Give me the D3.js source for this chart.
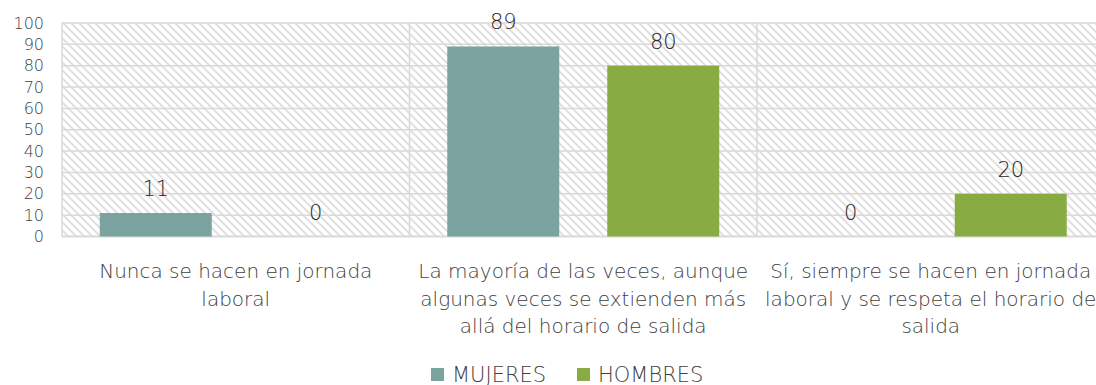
<!DOCTYPE html>
<html>
<head>
<meta charset="utf-8">
<script src="https://cdn.jsdelivr.net/npm/d3@7"></script>
<style>
  html, body { margin: 0; padding: 0; background: #fff; overflow: hidden; }
  svg { display: block; font-family: "DejaVu Sans", sans-serif; font-weight: 200; }
</style>
</head>
<body>
<svg id="chart" width="1096" height="385"></svg>
<script>
// Categories (answer options), split into the lines they are shown on
const categories = [
  ["Nunca se hacen en jornada", "laboral"],
  ["La mayoría de las veces, aunque", "algunas veces se extienden más", "allá del horario de salida"],
  ["Sí, siempre se hacen en jornada", "laboral y se respeta el horario de", "salida"]
];
const seriesNames = ["MUJERES", "HOMBRES"];
const mujeres = [11, 89, 0];
const hombres = [0, 80, 20];
const yTicks = [0, 10, 20, 30, 40, 50, 60, 70, 80, 90, 100];

const colors = { MUJERES: "#7ba3a0", HOMBRES: "#88ac43" };
const gridColor = "#d9d9d9";
const textColor = "#404040";

const svg = d3.select("#chart");
const plot = { left: 62, right: 1104.5, top: 23, bottom: 236.5 };

const x0 = d3.scaleBand()
  .domain(d3.range(categories.length))
  .range([plot.left, plot.right])
  .padding(0);
const x1 = d3.scaleBand()
  .domain(seriesNames)
  .range([0, x0.bandwidth()])
  .paddingInner(0.3)
  .paddingOuter(0.236);
const y = d3.scaleLinear().domain([0, 100]).range([plot.bottom, plot.top]);

// diagonal hatch background
const defs = svg.append("defs");
const pat = defs.append("pattern")
  .attr("id", "hatch")
  .attr("patternUnits", "userSpaceOnUse")
  .attr("width", 8).attr("height", 8);
pat.append("rect").attr("width", 8).attr("height", 8).attr("fill", "#fff");
pat.append("path")
  .attr("d", "M-2,-2 L10,10 M-2,6 L2,10 M6,-2 L10,2")
  .attr("stroke", "#dedede")
  .attr("stroke-width", 1.8);

svg.append("rect")
  .attr("x", plot.left).attr("y", plot.top)
  .attr("width", plot.right - plot.left)
  .attr("height", plot.bottom - plot.top)
  .attr("fill", "url(#hatch)");

// horizontal gridlines
svg.append("g").selectAll("line")
  .data(yTicks)
  .join("line")
  .attr("x1", plot.left).attr("x2", plot.right)
  .attr("y1", d => y(d)).attr("y2", d => y(d))
  .attr("stroke", gridColor)
  .attr("stroke-width", d => d === 0 ? 2 : 1.5);

// vertical category separators
svg.append("g").selectAll("line")
  .data(d3.range(categories.length + 1))
  .join("line")
  .attr("x1", i => i < categories.length ? x0(i) : plot.right)
  .attr("x2", i => i < categories.length ? x0(i) : plot.right)
  .attr("y1", plot.top).attr("y2", plot.bottom)
  .attr("stroke", gridColor)
  .attr("stroke-width", 1.5);

// y axis tick labels
const yAxis = d3.axisLeft(y).tickValues(yTicks).tickSize(0).tickPadding(18);
const yG = svg.append("g")
  .attr("transform", `translate(${plot.left},0)`)
  .call(yAxis);
yG.select(".domain").remove();
yG.selectAll("text")
  .attr("fill", textColor)
  .attr("font-size", 16)
  .attr("font-family", "'DejaVu Sans', sans-serif")
  .attr("font-weight", 200);

// bars
const rows = categories.map((c, i) => ({ i, values: [
  { key: "MUJERES", value: mujeres[i] },
  { key: "HOMBRES", value: hombres[i] }
]}));

const groups = svg.append("g").selectAll("g")
  .data(rows)
  .join("g")
  .attr("transform", d => `translate(${x0(d.i)},0)`);

groups.selectAll("rect")
  .data(d => d.values)
  .join("rect")
  .attr("x", d => x1(d.key))
  .attr("width", x1.bandwidth())
  .attr("y", d => y(d.value))
  .attr("height", d => y(0) - y(d.value))
  .attr("fill", d => colors[d.key]);

groups.selectAll("text.val")
  .data(d => d.values)
  .join("text")
  .attr("class", "val")
  .attr("x", d => x1(d.key) + x1.bandwidth() / 2)
  .attr("y", d => y(d.value) - 17)
  .attr("text-anchor", "middle")
  .attr("fill", "#262626")
  .attr("font-size", 21)
  .text(d => d.value);

// category labels
const catG = svg.append("g").selectAll("text")
  .data(categories)
  .join("text")
  .attr("text-anchor", "middle")
  .attr("fill", textColor)
  .attr("font-size", 20);
catG.each(function(lines, i) {
  d3.select(this).selectAll("tspan")
    .data(lines)
    .join("tspan")
    .attr("x", x0(i) + x0.bandwidth() / 2)
    .attr("y", (d, k) => 278 + k * 27.5)
    .text(d => d);
});

// legend
const legendItems = [
  { key: "MUJERES", x: 431 },
  { key: "HOMBRES", x: 577 }
];
const lg = svg.append("g").selectAll("g")
  .data(legendItems)
  .join("g")
  .attr("transform", d => `translate(${d.x},368)`);
lg.append("rect")
  .attr("width", 13).attr("height", 13)
  .attr("fill", d => colors[d.key]);
lg.append("text")
  .attr("x", 21).attr("y", 13.5)
  .attr("fill", textColor)
  .attr("font-size", 21)
  .text(d => d.key);
</script>
</body>
</html>
